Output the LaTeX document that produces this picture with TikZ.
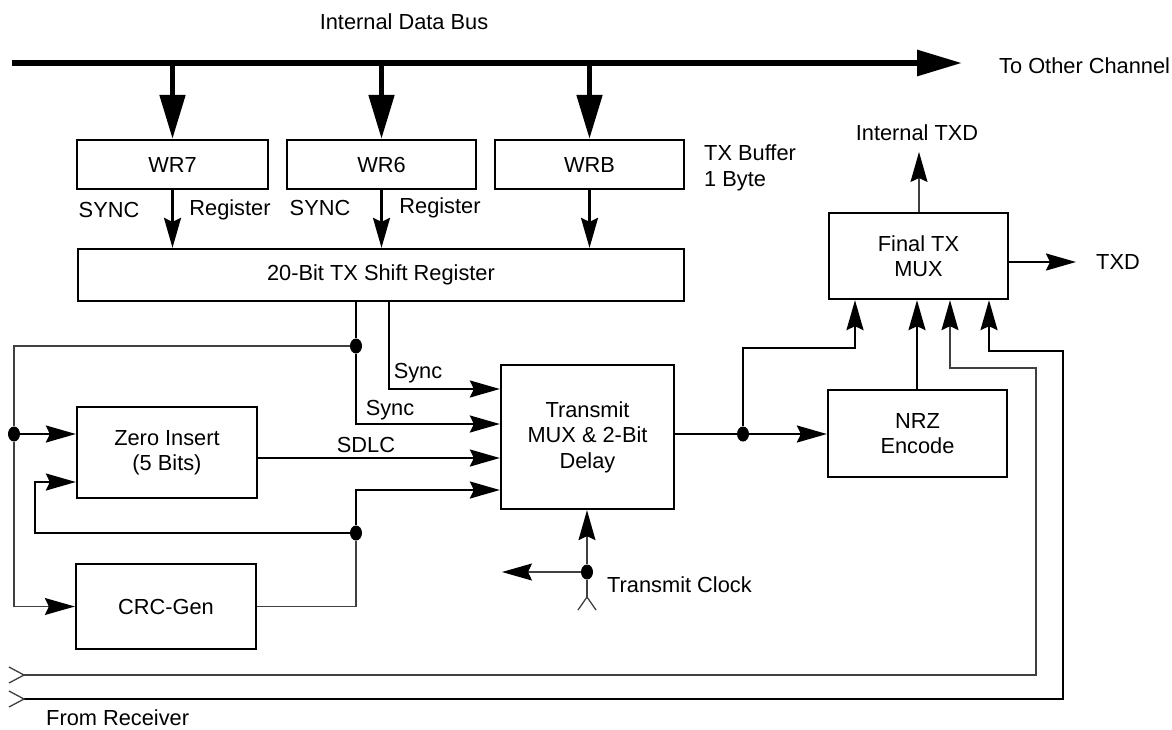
\documentclass[tikz,border=0pt]{standalone}
\usepackage{fontspec}
\setmainfont{Liberation Sans}
\usetikzlibrary{arrows.meta,shapes.geometric}
\begin{document}
\begin{tikzpicture}[x=1pt,y=-1pt,
  font=\fontsize{21.8}{25.5}\selectfont,
  box/.style={draw, line width=2.3pt, inner sep=0pt, align=center},
  wire/.style={line width=2.3pt},
  thinw/.style={line width=1.3pt, draw=black!75},
  arr/.style={-{Stealth[length=30pt,width=17pt,inset=4pt,color=black]}},
  busarr/.style={-{Triangle[length=45pt,width=25pt]}},
  jdot/.style={ellipse, fill=black, draw=none, inner sep=0pt, minimum width=12pt, minimum height=15pt},
  lbl/.style={inner sep=0pt}
]
\useasboundingbox (0,0) rectangle (1172,729);

% boxes
\node[box, minimum width=191pt, minimum height=49pt] (wr7) at (172.5,164.5) {WR7};
\node[box, minimum width=189pt, minimum height=49pt] (wr6) at (381.5,164.5) {WR6};
\node[box, minimum width=189pt, minimum height=49pt] (wrb) at (589.5,164.5) {WRB};
\node[box, minimum width=606pt, minimum height=52pt] (shift) at (381,275) {20-Bit TX Shift Register};
\node[box, minimum width=179pt, minimum height=86pt] (mux) at (918.5,256) {Final TX\\MUX};
\node[box, minimum width=179pt, minimum height=87pt] (nrz) at (917.5,433.5) {NRZ\\Encode};
\node[box, minimum width=173pt, minimum height=144pt] (tmux) at (587.5,437) {Transmit\\MUX \& 2-Bit\\Delay};
\node[box, minimum width=180pt, minimum height=91pt] (zero) at (167,452.5) {Zero Insert\\(5 Bits)};
\node[box, minimum width=180pt, minimum height=85pt] (crc) at (166,606.5) {CRC-Gen};

% labels
\node[lbl] (lbus) at (404,22) {Internal Data Bus};
\node[lbl, anchor=west] (lother) at (999,66) {To Other Channel};
\node[lbl, anchor=west, align=left] (lbuf) at (704,168) {TX Buffer\\1 Byte};
\node[lbl] (ls1) at (109,210) {SYNC};
\node[lbl] (lr1) at (230,210) {Register};
\node[lbl] (ls2) at (320,208) {SYNC};
\node[lbl] (lr2) at (440,208) {Register};
\node[lbl] (litxd) at (917,133) {Internal TXD};
\node[lbl, anchor=west] (ltxd) at (1096,262) {TXD};
\node[lbl] (lsync1) at (418,373) {Sync};
\node[lbl] (lsync2) at (390,410) {Sync};
\node[lbl] (lsdlc) at (366,445) {SDLC};
\node[lbl, anchor=west] (lclk) at (607,585) {Transmit Clock};
\node[lbl, anchor=west] (lrcv) at (46,718) {From Receiver};

% helper coordinates
\coordinate (busL) at (12,63);
\coordinate (busR) at (962,63);
\coordinate (xA) at (356,0);
\coordinate (xB) at (389,0);
\coordinate (rS1) at (0,389);
\coordinate (rS2) at (0,424);
\coordinate (rSD) at (0,458);
\coordinate (rCR) at (0,490);
\coordinate (rZ2) at (0,482);
\coordinate (xM1) at (855,0);
\coordinate (xM2) at (917,0);
\coordinate (xM3) at (950,0);
\coordinate (xM4) at (989,0);
\coordinate (xT) at (919,0);
\coordinate (itxdTip) at (919,152);
\coordinate (txdTip) at (1076,262);
\coordinate (rx1) at (24,675);
\coordinate (rx2) at (24,699);
\coordinate (clkF) at (587,597);
\coordinate (clkL) at (502,572);

% junction dots
\node[jdot] (j1) at (356,346) {};
\node[jdot] (j2) at (14,434) {};
\node[jdot] (j3) at (356,533) {};
\node[jdot] (j4) at (743,434) {};
\node[jdot] (j5) at (587,572) {};

% internal data bus
\draw[line width=6pt, busarr] (busL) -- (busR);
\foreach \n in {wr7,wr6,wrb}{
  \draw[line width=5pt, -{Triangle[length=44pt,width=25pt]}] (\n.north |- busL) -- (\n.north);
  \draw[wire, arr] (\n.south) -- (\n.south |- shift.north);
}

% shift register outputs
\draw[wire] (shift.south -| xA) -- (j1);
\draw[wire, arr] (j1) -- (xA |- rS2) -- (tmux.west |- rS2);
\draw[wire, arr] (shift.south -| xB) -- (xB |- rS1) -- (tmux.west |- rS1);

% left feed
\draw[thinw] (j1) -- (j1 -| j2) -- (j2);
\draw[thinw, arr] (j2) -- (j2 |- crc.west) -- (crc.west);
\draw[wire, arr] (j2) -- (zero.west |- j2);

% SDLC
\draw[wire, arr] (zero.east |- rSD) -- (tmux.west |- rSD);

% CRC path
\draw[thinw] (crc.east) -- (crc.east -| j3) -- (j3);
\draw[wire, arr] (j3) -- (xA |- rCR) -- (tmux.west |- rCR);
\draw[wire, arr] (j3) -- (35,533) -- (35,482) -- (zero.west |- rZ2);

% transmit out
\draw[wire] (tmux.east |- j4) -- (j4);
\draw[wire, arr] (j4) -- (nrz.west |- j4);
\draw[wire, arr] (j4) -- (743,348) -- (855,348) -- (mux.south -| xM1);
\draw[wire, arr] (nrz.north -| xM2) -- (mux.south -| xM2);

% from receiver
\draw[thinw, arr] (rx1) -- (1036,675) -- (1036,368) -- (950,368) -- (mux.south -| xM3);
\draw[wire, arr] (rx2) -- (1063,699) -- (1063,351) -- (989,351) -- (mux.south -| xM4);
\draw[thinw] (9,667) -- (rx1) -- (9,683);
\draw[thinw] (9,691) -- (rx2) -- (9,707);

% outputs
\draw[thinw, arr] (mux.north -| xT) -- (itxdTip);
\draw[wire, arr] (mux.east |- txdTip) -- (txdTip);

% transmit clock
\draw[thinw] (578,610) -- (clkF) -- (596,610);
\draw[thinw] (clkF) -- (j5);
\draw[thinw, arr] (j5) -- (tmux.south -| j5);
\draw[thinw, arr] (j5) -- (clkL);
\end{tikzpicture}
\end{document}
